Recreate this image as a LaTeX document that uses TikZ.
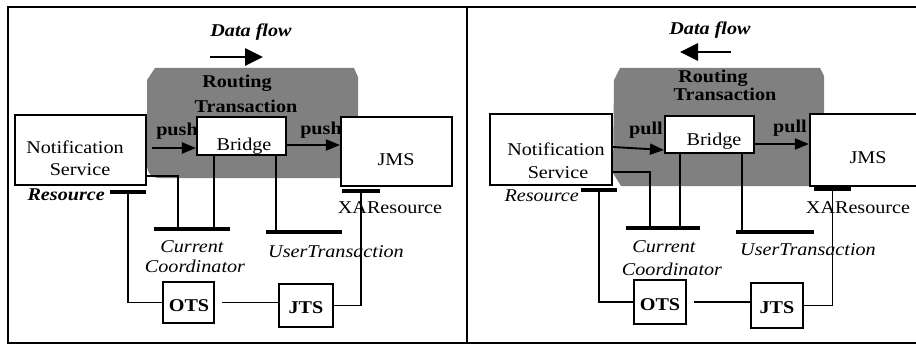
\documentclass[tikz,border=0pt]{standalone}
\usepackage{fontspec}
\setmainfont[FakeStretch=1.12]{Liberation Serif}
\usetikzlibrary{arrows.meta}
\definecolor{routegray}{RGB}{128,128,128}
\begin{document}
\begin{tikzpicture}[x=1pt,y=-1pt,
  lbl/.style={inner sep=0pt, anchor=base, font=\fontsize{18}{20}\selectfont},
  lblb/.style={lbl, font=\fontsize{18}{20}\selectfont\bfseries},
  lbli/.style={lbl, font=\fontsize{18}{20}\selectfont\itshape},
  lblbi/.style={lbl, font=\fontsize{18}{20}\selectfont\bfseries\itshape},
  box/.style={draw, fill=white, line width=2.1pt, inner sep=0pt},
  bar/.style={fill=black, inner sep=0pt, minimum height=4.5pt},
  wire/.style={line width=1.9pt},
  flow/.style={line width=1.9pt, -{Triangle[length=14pt,width=11pt]}},
  bigflow/.style={line width=2.8pt, -{Triangle[length=18pt,width=17pt]}},
  region/.style={fill=routegray, draw=none},
]
\useasboundingbox (0,0) rectangle (916,345);

% ---------------- frame ----------------
\draw[line width=2.4pt] (930,7) -- (8,7) -- (8,343) -- (930,343);
\draw[line width=2.4pt] (467,7) -- (467,343);

% ================= left panel: push =================
\fill[region] (147,80) -- (155,68) -- (354,68) -- (358,77) -- (358,178) -- (160,178)
  .. controls (151,178) and (147,173) .. (147,164) -- cycle;
\node[lblbi] (dfL) at (251,37) {Data flow};
\coordinate (dfLa) at (210,57);
\coordinate (dfLb) at (263,57);
\draw[bigflow] (dfLa) -- (dfLb);
\node[lblb] (rtL1) at (237,88) {Routing};
\node[lblb] (rtL2) at (246,112) {Transaction};

\node[box, minimum width=131pt, minimum height=70pt] (ns) at (80.5,150) {};
\node[lbl] (nsL1) at (75,153) {Notification};
\node[lbl] (nsL2) at (80,175) {Service};

\node[box, minimum width=89pt, minimum height=38pt] (br) at (241.5,136) {};
\node[lbl] (brL) at (244,150) {Bridge};

\node[box, minimum width=111pt, minimum height=69pt] (jms) at (396.5,151.5) {};
\node[lbl] (jmsL) at (396,165) {JMS};

\node[box, minimum width=51pt, minimum height=41pt] (ots) at (188.5,302.5) {};
\node[lblb] (otsL) at (189,311) {OTS};
\node[box, minimum width=54pt, minimum height=43pt] (jts) at (306,305.5) {};
\node[lblb] (jtsL) at (306,313) {JTS};

\node[bar, minimum width=36pt] (res) at (128,192) {};
\node[bar, minimum width=76pt] (cc) at (192,229) {};
\node[bar, minimum width=76pt] (ut) at (304,232) {};
\node[bar, minimum width=38pt] (xa) at (361,191) {};

\node[lblb] (pushA) at (177,135) {push};
\node[lblb] (pushB) at (321,134) {push};
\node[lblbi, anchor=base east] (resL) at (105,200) {Resource};
\node[lbl] (xaL) at (390,213) {XAResource};
\node[lbli] (ccL1) at (192,252) {Current};
\node[lbli] (ccL2) at (195,272) {Coordinator};
\node[lbli] (utL) at (336,257) {UserTransaction};

\draw[flow] ([xshift=5pt]ns.east |- 0,148) -- (br.west |- 0,148);
\draw[flow] (br.east |- 0,145) -- (jms.west |- 0,145);
\draw[wire] (ns.east |- 0,176) -| (cc.north -| 178,0);
\draw[wire] (br.south -| 214,0) -- (cc.north -| 214,0);
\draw[wire] (br.south -| 276,0) -- (ut.north -| 276,0);
\draw[wire] (res.south) |- (ots.west);
\draw[wire] (xa.south) |- (jts.east);
\draw[wire] ([xshift=7pt]ots.east) -- (ots.east -| jts.west);

% ================= right panel: pull =================
\fill[region] (614,80) -- (620,68) -- (820,68) -- (824,76) -- (824,186) -- (621,186)
  -- (613,173) -- cycle;
\node[lblbi] (dfR) at (710,35) {Data flow};
\coordinate (dfRa) at (731,52);
\coordinate (dfRb) at (680,52);
\draw[bigflow] (dfRa) -- (dfRb);
\node[lblb] (rtR1) at (713,82) {Routing};
\node[lblb] (rtR2) at (725,100) {Transaction};

\node[box, minimum width=122pt, minimum height=71pt] (ns2) at (551,149.5) {};
\node[lbl] (ns2L1) at (556,155) {Notification};
\node[lbl] (ns2L2) at (558,178) {Service};

\node[box, minimum width=89pt, minimum height=37pt] (br2) at (709.5,134.5) {};
\node[lbl] (br2L) at (714,145) {Bridge};

\node[box, minimum width=115pt, minimum height=72pt] (jms2) at (867.5,150) {};
\node[lbl] (jms2L) at (868,163) {JMS};

\node[box, minimum width=52pt, minimum height=44pt] (ots2) at (660,302) {};
\node[lblb] (ots2L) at (660,310) {OTS};
\node[box, minimum width=52pt, minimum height=45pt] (jts2) at (777,305.5) {};
\node[lblb] (jts2L) at (777,313) {JTS};

\node[bar, minimum width=36pt] (res2) at (599,190) {};
\node[bar, minimum width=74pt] (cc2) at (663,228) {};
\node[bar, minimum width=78pt] (ut2) at (775,232) {};
\node[bar, minimum width=37pt] (xa2) at (832.5,189) {};

\node[lblb] (pullA) at (646,134) {pull};
\node[lblb] (pullB) at (790,132) {pull};
\node[lbli, anchor=base east] (res2L) at (579,201) {Resource};
\node[lbl] (xa2L) at (858,213) {XAResource};
\node[lbli] (cc2L1) at (664,252) {Current};
\node[lbli] (cc2L2) at (672,275) {Coordinator};
\node[lbli] (ut2L) at (808,255) {UserTransaction};

\draw[flow] (ns2.east |- 0,147) -- (br2.west |- 0,150);
\draw[flow] (br2.east |- 0,144) -- (jms2.west |- 0,144);
\draw[wire] (ns2.east |- 0,172) -| (cc2.north -| 650,0);
\draw[wire] (br2.south -| 680,0) -- (cc2.north -| 680,0);
\draw[wire] (br2.south -| 742,0) -- (ut2.north -| 742,0);
\draw[wire] (res2.south) |- (ots2.west);
\draw[wire] (xa2.south) |- (jts2.east);
\draw[wire] ([xshift=7pt]ots2.east) -- (ots2.east -| jts2.west);
\end{tikzpicture}
\end{document}
